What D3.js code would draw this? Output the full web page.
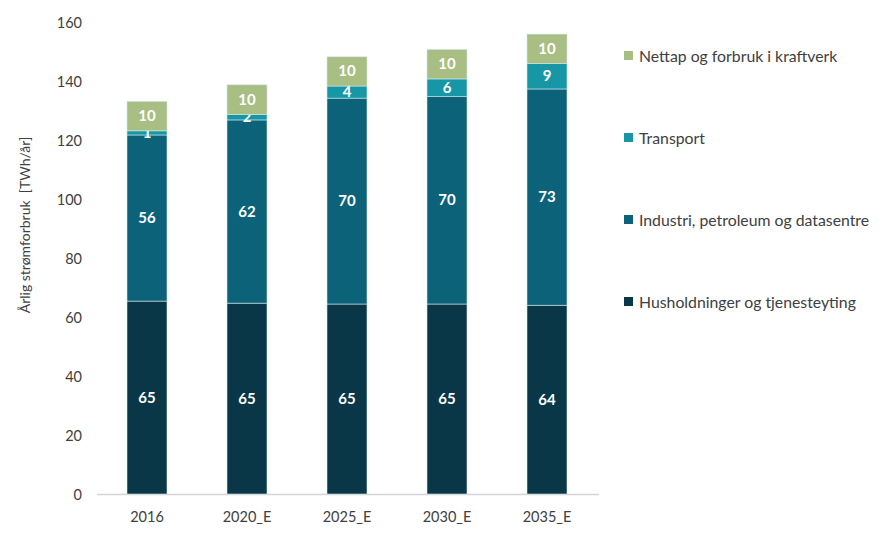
<!DOCTYPE html>
<html><head><meta charset="utf-8">
<script src="https://cdn.jsdelivr.net/npm/d3@7"></script>
<style>
body{margin:0;background:#fff;}
text{font-family:Lato,"Open Sans",sans-serif;}
</style></head>
<body><svg id="c" width="884" height="540"></svg>
<script>
const categories = ["2016","2020_E","2025_E","2030_E","2035_E"];
const seriesNames = ["Husholdninger og tjenesteyting","Industri, petroleum og datasentre","Transport","Nettap og forbruk i kraftverk"];
const husholdninger = [65.4, 64.7, 64.4, 64.4, 64.0];
const industri = [56.3, 62.1, 69.8, 70.3, 73.3];
const transport = [1.4, 1.8, 4.1, 6.0, 8.6];
const nettap = [10.0, 10.1, 9.9, 10.0, 10.0];
const valueLabels = [
  ["65","65","65","65","64"],
  ["56","62","70","70","73"],
  ["1","2","4","6","9"],
  ["10","10","10","10","10"]
];
const yTicks = [0,20,40,60,80,100,120,140,160];
const colors = ["#0a3747","#0c6279","#1796a6","#a9be83"];

const svg = d3.select("#c");
const x = d3.scaleBand().domain(categories).range([97,597]).paddingInner(0.6).paddingOuter(0.3);
const y = d3.scaleLinear().domain([0,160]).range([494,22]);

const seriesData = [husholdninger, industri, transport, nettap];
const rows = categories.map((c,i)=>{const o={cat:c}; seriesNames.forEach((s,j)=>o[s]=seriesData[j][i]); return o;});
const stack = d3.stack().keys(seriesNames)(rows);

// x axis line
svg.append("line").attr("x1",97).attr("x2",599).attr("y1",y(0)+0.5).attr("y2",y(0)+0.5)
  .attr("stroke","#d4d4d4").attr("stroke-width",1.5);

stack.forEach((layer,j)=>{
  const g = svg.append("g");
  g.selectAll("rect").data(layer).join("rect")
    .attr("x",d=>x(d.data.cat)).attr("width",x.bandwidth())
    .attr("y",d=>y(d[1])).attr("height",d=>y(d[0])-y(d[1]))
    .attr("fill",colors[j]).attr("stroke","#cfe6ea").attr("stroke-width",0.6);
  g.selectAll("text").data(layer).join("text")
    .attr("x",d=>x(d.data.cat)+x.bandwidth()/2)
    .attr("y",d=>(y(d[0])+y(d[1]))/2 + 5)
    .attr("text-anchor","middle").attr("fill","#fff").attr("font-size",15).attr("font-weight",700)
    .text((d,i)=>valueLabels[j][i]);
});

// y axis ticks
const yAxis = d3.axisLeft(y).tickValues(yTicks).tickSize(0).tickPadding(0);
const ya = svg.append("g").attr("transform","translate(82,0)").call(yAxis);
ya.select(".domain").remove();
ya.selectAll("text").attr("font-size",14.5).attr("fill","#404040").attr("font-family","Lato,'Open Sans',sans-serif").attr("dy","0.35em");

// x axis labels
const xAxis = d3.axisBottom(x).tickSize(0).tickPadding(0);
const xa = svg.append("g").attr("transform","translate(0,517)").call(xAxis);
xa.select(".domain").remove();
xa.selectAll("text").attr("font-size",14.5).attr("fill","#404040").attr("font-family","Lato,'Open Sans',sans-serif").attr("dy","0.35em");

// y title
svg.append("text").attr("transform","translate(30,225) rotate(-90)").attr("text-anchor","middle")
  .attr("font-size",14).attr("fill","#404040").attr("xml:space","preserve").text("Årlig strømforbruk  [TWh/år]");

// legend
const legendY = [56,138,220,302];
const legendOrder = [3,2,1,0];
legendOrder.forEach((s,k)=>{
  const g = svg.append("g").attr("transform",`translate(624,${legendY[k]})`);
  g.append("rect").attr("x",0).attr("y",-5).attr("width",9).attr("height",9).attr("fill",colors[s]);
  g.append("text").attr("x",15).attr("y",0).attr("dy","0.35em").attr("font-size",15.8).attr("fill","#404040").text(seriesNames[s]);
});
</script></body></html>
